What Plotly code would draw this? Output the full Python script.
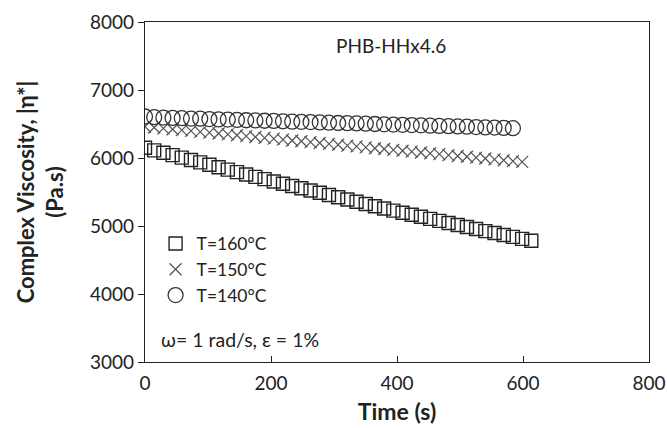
import plotly.graph_objects as go

# ---- data ----
time_160 = [0, 14.6, 29.2, 43.8, 58.4, 73.0, 87.6, 102.2, 116.8, 131.4, 146.0, 160.6, 175.2,
            189.8, 204.4, 219.0, 233.6, 248.2, 262.8, 277.4, 292.0, 306.6, 321.2, 335.8, 350.4,
            365.0, 379.6, 394.2, 408.8, 423.4, 438.0, 452.6, 467.2, 481.8, 496.4, 511.0, 525.6,
            540.2, 554.8, 569.4, 584.0, 598.6, 613.2]
visc_160 = [6150, 6112, 6078, 6042, 6006, 5970, 5935, 5900, 5864, 5829, 5793, 5758, 5723,
            5689, 5655, 5622, 5588, 5555, 5521, 5488, 5455, 5422, 5389, 5356, 5323, 5291,
            5258, 5226, 5195, 5165, 5135, 5105, 5075, 5045, 5015, 4985, 4955, 4925, 4897,
            4868, 4840, 4810, 4782]

time_150 = [0, 14.6, 29.2, 43.8, 58.4, 73.0, 87.6, 102.2, 116.8, 131.4, 146.0, 160.6, 175.2,
            189.8, 204.4, 219.0, 233.6, 248.2, 262.8, 277.4, 292.0, 306.6, 321.2, 335.8, 350.4,
            365.0, 379.6, 394.2, 408.8, 423.4, 438.0, 452.6, 467.2, 481.8, 496.4, 511.0, 525.6,
            540.2, 554.8, 569.4, 584.0, 598.6]
visc_150 = [6460, 6448, 6436, 6423, 6410, 6398, 6385, 6372, 6360, 6347, 6334, 6322, 6309,
            6296, 6284, 6271, 6258, 6246, 6233, 6220, 6208, 6195, 6182, 6170, 6157, 6144,
            6132, 6119, 6106, 6094, 6081, 6068, 6056, 6043, 6030, 6018, 6005, 5992, 5980,
            5967, 5954, 5942]

time_140 = [0, 14.6, 29.2, 43.8, 58.4, 73.0, 87.6, 102.2, 116.8, 131.4, 146.0, 160.6, 175.2,
            189.8, 204.4, 219.0, 233.6, 248.2, 262.8, 277.4, 292.0, 306.6, 321.2, 335.8, 350.4,
            365.0, 379.6, 394.2, 408.8, 423.4, 438.0, 452.6, 467.2, 481.8, 496.4, 511.0, 525.6,
            540.2, 554.8, 569.4, 584.0]
visc_140 = [6610, 6600, 6595, 6590, 6585, 6580, 6578, 6572, 6568, 6565, 6560, 6555, 6552,
            6548, 6545, 6540, 6535, 6532, 6528, 6524, 6520, 6515, 6512, 6508, 6505, 6500,
            6495, 6492, 6488, 6484, 6480, 6475, 6472, 6468, 6464, 6460, 6455, 6450, 6447,
            6443, 6438]

series_names = ["T=160°C", "T=150°C", "T=140°C"]
x_ticks = [0, 200, 400, 600, 800]
y_ticks = [3000, 4000, 5000, 6000, 7000, 8000]

FONT = "Lato, 'Open Sans', sans-serif"

fig = go.Figure()
fig.add_trace(go.Scatter(
    x=time_160, y=visc_160, mode="markers", name=series_names[0],
    marker=dict(symbol="square-open", size=13, color="#222222", line=dict(width=1.4, color="#222222"))))
fig.add_trace(go.Scatter(
    x=time_150, y=visc_150, mode="markers", name=series_names[1],
    marker=dict(symbol="x-thin-open", size=12, color="#555555", line=dict(width=1.2, color="#555555"))))
fig.add_trace(go.Scatter(
    x=time_140, y=visc_140, mode="markers", name=series_names[2],
    marker=dict(symbol="circle-open", size=15, color="#333333", line=dict(width=1.3, color="#333333"))))

fig.update_layout(
    width=667, height=428,
    margin=dict(l=145, r=18, t=22, b=66),
    paper_bgcolor="white", plot_bgcolor="white",
    font=dict(family=FONT, size=16, color="#222222"),
    showlegend=True,
    legend=dict(x=0.019, y=0.401, xanchor="left", yanchor="top",
                bgcolor="rgba(0,0,0,0)", font=dict(size=17.5, family=FONT),
                itemwidth=32, tracegroupgap=0),
    annotations=[
        dict(x=390, y=7660, xref="x", yref="y", text="PHB-HHx4.6", showarrow=False,
             font=dict(size=19, family=FONT)),
        dict(x=22, y=3330, xref="x", yref="y", text="ω= 1 rad/s, ε = 1%", showarrow=False,
             xanchor="left", font=dict(size=19.5, family=FONT)),
    ],
)
fig.update_xaxes(
    range=[0, 800], tickvals=x_ticks, showline=True, linecolor="#222222", linewidth=1.3,
    mirror=True, ticks="inside", ticklen=6, tickcolor="#222222", showgrid=False, zeroline=False,
    tickfont=dict(size=19, family=FONT), automargin=False, ticklabelstandoff=4,
    title=dict(text="<b>Time (s)</b>", font=dict(size=23, family=FONT), standoff=10))
fig.update_yaxes(
    range=[3000, 8000], tickvals=y_ticks, showline=True, linecolor="#222222", linewidth=1.3,
    mirror=True, ticks="outside", ticklen=6, tickcolor="#222222", showgrid=False, zeroline=False,
    tickfont=dict(size=19, family=FONT), automargin=False,
    title=dict(text="<b>Complex Viscosity, |η*|<br>(Pa.s)</b>", font=dict(size=22, family=FONT),
               standoff=20))

fig.write_html("out.html", config={"displayModeBar": False},
               post_script="document.body.style.margin='0';")
